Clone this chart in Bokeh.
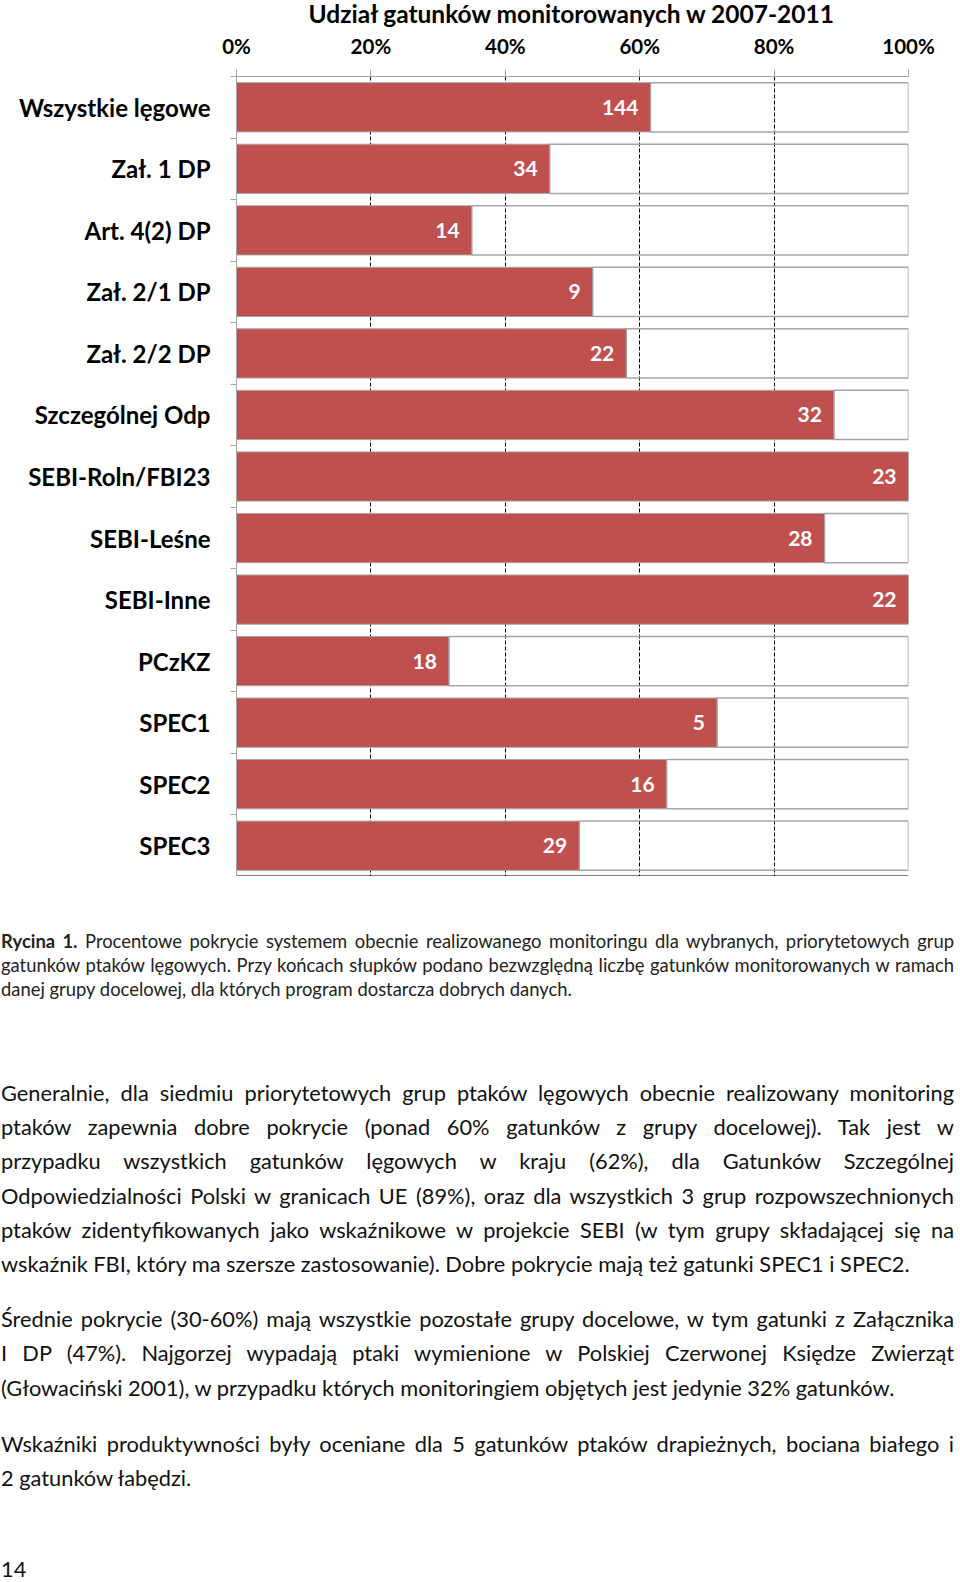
from bokeh.plotting import figure
from bokeh.models import Range1d, FixedTicker, LinearAxis, Div, ColumnDataSource
from bokeh.layouts import column
from bokeh.core.properties import value
from bokeh.embed import file_html
from bokeh.resources import INLINE

# ---- data ----
categories = ["Wszystkie lęgowe", "Zał. 1 DP", "Art. 4(2) DP", "Zał. 2/1 DP", "Zał. 2/2 DP",
              "Szczególnej Odp", "SEBI-Roln/FBI23", "SEBI-Leśne", "SEBI-Inne", "PCzKZ",
              "SPEC1", "SPEC2", "SPEC3"]
percent_monitored = [61.6, 46.6, 35.0, 53.0, 58.0, 88.9, 100.0, 87.5, 100.0, 31.6, 71.5, 64.0, 51.0]
species_counts = [144, 34, 14, 9, 22, 32, 23, 28, 22, 18, 5, 16, 29]
x_ticks = [0, 20, 40, 60, 80, 100]
x_tick_labels = ["0%", "20%", "40%", "60%", "80%", "100%"]
title_text = "Udział gatunków monitorowanych w 2007-2011"

caption_lines = [
    "<b>Rycina 1.</b> Procentowe pokrycie systemem obecnie realizowanego monitoringu dla wybranych, priorytetowych grup",
    "gatunków ptaków lęgowych. Przy końcach słupków podano bezwzględną liczbę gatunków monitorowanych w ramach",
    "danej grupy docelowej, dla których program dostarcza dobrych danych.",
]
paragraphs = [
    ["Generalnie, dla siedmiu priorytetowych grup ptaków lęgowych obecnie realizowany monitoring",
     "ptaków zapewnia dobre pokrycie (ponad 60% gatunków z grupy docelowej). Tak jest w",
     "przypadku wszystkich gatunków lęgowych w kraju (62%), dla Gatunków Szczególnej",
     "Odpowiedzialności Polski w granicach UE (89%), oraz dla wszystkich 3 grup rozpowszechnionych",
     "ptaków zidentyfikowanych jako wskaźnikowe w projekcie SEBI (w tym grupy składającej się na",
     "wskaźnik FBI, który ma szersze zastosowanie). Dobre pokrycie mają też gatunki SPEC1 i SPEC2."],
    ["Średnie pokrycie (30-60%) mają wszystkie pozostałe grupy docelowe, w tym gatunki z Załącznika",
     "I DP (47%). Najgorzej wypadają ptaki wymienione w Polskiej Czerwonej Księdze Zwierząt",
     "(Głowaciński 2001), w przypadku których monitoringiem objętych jest jedynie 32% gatunków."],
    ["Wskaźniki produktywności były oceniane dla 5 gatunków ptaków drapieżnych, bociana białego i",
     "2 gatunków łabędzi."],
]
page_number = "14"

# ---- chart ----
n = len(categories)
pos = list(range(n))
src = ColumnDataSource(dict(
    y=pos, pct=percent_monitored, full=[x_ticks[-1]] * n,
    label=[str(c) for c in species_counts]))

FONT = "Lato"
GREY = "#a6a6a6"

p = figure(frame_width=672, frame_height=800,
           x_range=Range1d(x_ticks[0], x_ticks[-1]), y_range=Range1d(n - 0.5, -0.5),
           x_axis_location="above", output_backend="svg", toolbar_location=None,
           title=title_text, min_border_left=244, min_border_right=40,
           min_border_bottom=0, min_border_top=0)
p.outline_line_color = None
p.title.align = "center"
p.title.text_font = FONT
p.title.text_font_style = "bold"
p.title.text_font_size = "24.5px"
p.title.text_color = "black"
p.title.standoff = 5

xa = p.xaxis[0]
xa.ticker = FixedTicker(ticks=x_ticks)
xa.major_label_overrides = {t: l for t, l in zip(x_ticks, x_tick_labels)}
xa.axis_line_color = GREY
xa.major_tick_line_color = GREY
xa.major_tick_out = 7
xa.major_tick_in = 0
xa.minor_tick_line_color = None
xa.major_label_text_font = FONT
xa.major_label_text_font_style = "bold"
xa.major_label_text_font_size = "20.5px"
xa.major_label_text_color = "black"
xa.major_label_standoff = 12

ya = p.yaxis[0]
ya.ticker = FixedTicker(ticks=pos, minor_ticks=[i - 0.5 for i in range(n + 1)])
ya.major_label_overrides = {i: c for i, c in enumerate(categories)}
ya.axis_line_color = GREY
ya.major_tick_out = 0
ya.major_tick_in = 0
ya.minor_tick_out = 6
ya.minor_tick_in = 0
ya.minor_tick_line_color = GREY
ya.major_label_text_font = FONT
ya.major_label_text_font_style = "bold"
ya.major_label_text_font_size = "24px"
ya.major_label_text_color = "black"
ya.major_label_standoff = 20

bx = LinearAxis(ticker=FixedTicker(ticks=[]), axis_line_color="black", axis_line_width=2,
                major_tick_line_color=None, minor_tick_line_color=None,
                major_label_text_font_size="0px")
p.add_layout(bx, "below")

p.ygrid.grid_line_color = None
p.xgrid.ticker = FixedTicker(ticks=x_ticks[1:])
p.xgrid.grid_line_color = "black"
p.xgrid.grid_line_dash = "4 2"
p.xgrid.grid_line_width = 1

p.hbar(y="y", left="pct", right="full", height=0.8, fill_color=None,
       line_color=GREY, line_width=1.5, source=src)
p.hbar(y="y", left=0, right="pct", height=0.8, fill_color="#C0504D",
       line_color=GREY, line_width=1, source=src)
p.text(x="pct", y="y", text="label", x_offset=-12, text_align="right",
       text_baseline="middle", text_color="white", text_font=value(FONT),
       text_font_style="bold", text_font_size="21px", source=src)

# ---- text below ----
def line_div(txt, last):
    al = "text-align:left;" if last else "text-align:justify;text-align-last:justify;"
    return f'<div style="{al}">{txt}</div>'

html = ['<div style="font-family:Lato,sans-serif;color:#111;width:953px;margin-left:4px;">']
html.append('<div style="font-size:18.4px;line-height:24px;padding-top:48px;color:#222;">')
for k, ln in enumerate(caption_lines):
    html.append(line_div(ln, k == len(caption_lines) - 1))
html.append('</div>')
gaps = [75, 21, 22]
for g, para in zip(gaps, paragraphs):
    html.append(f'<div style="font-size:21.8px;line-height:34.2px;margin-top:{g}px;">')
    for k, ln in enumerate(para):
        html.append(line_div(ln, k == len(para) - 1))
    html.append('</div>')
html.append(f'<div style="font-size:21.8px;line-height:34px;margin-top:57px;">{page_number}</div>')
html.append('</div>')
div = Div(text="".join(html), width=957)

layout = column(p, div, styles={"margin-top": "-6px", "margin-left": "-8px"})
open("out.html", "w").write(file_html(layout, INLINE))
